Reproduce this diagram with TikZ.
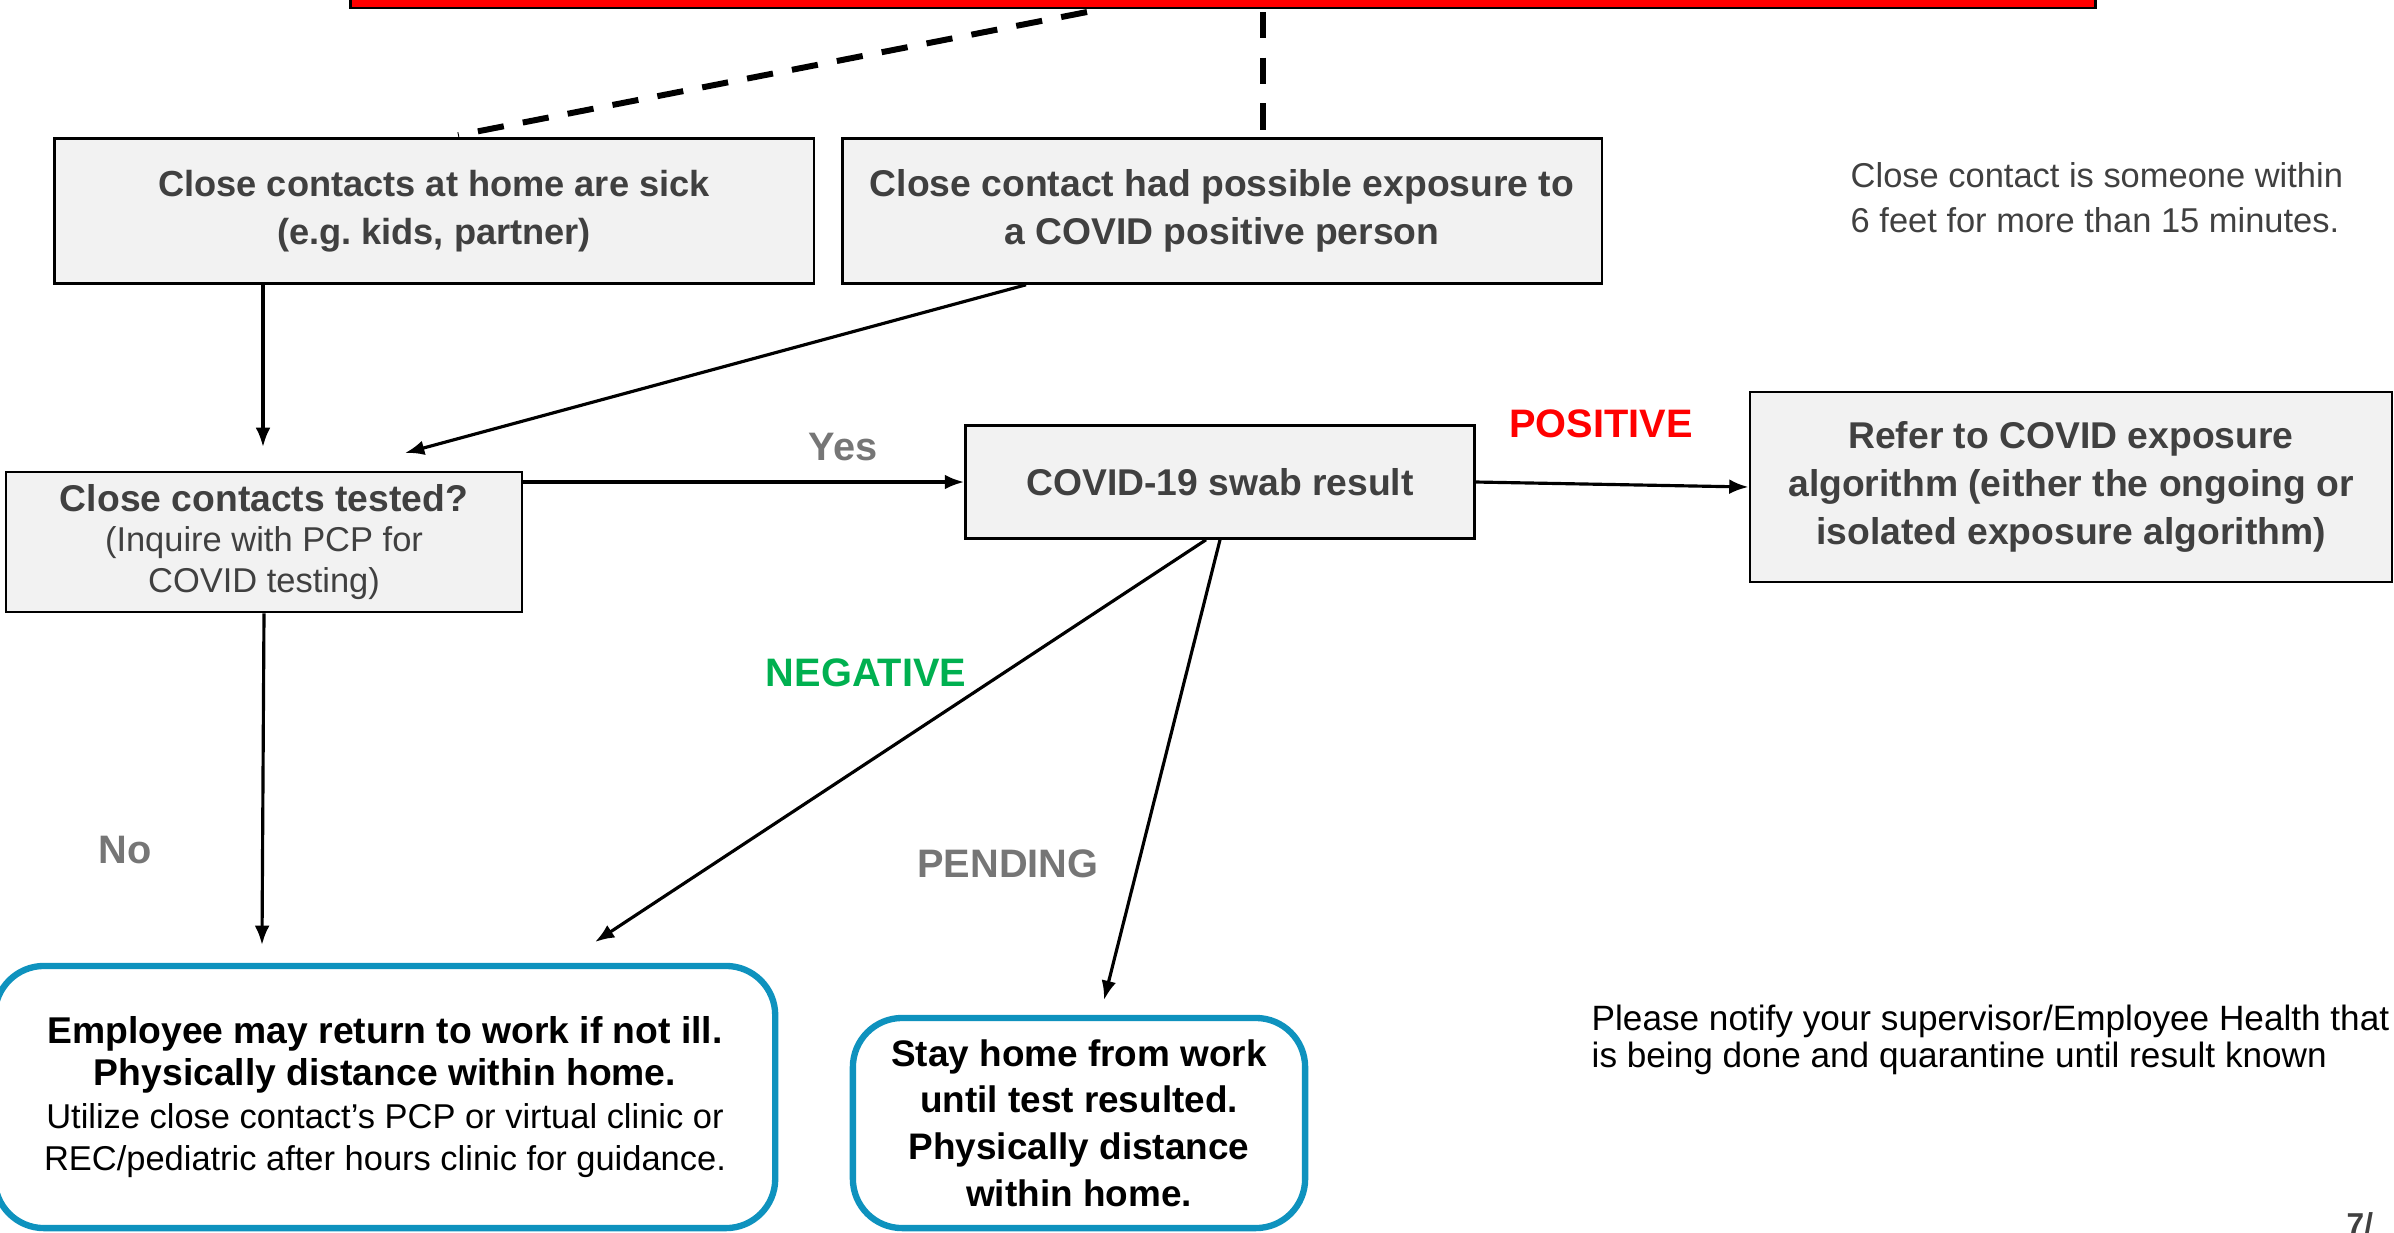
\documentclass[tikz,border=0pt]{standalone}
\usepackage{fontspec}
\setmainfont{Liberation Sans}
\usepackage{tikz}
\usetikzlibrary{arrows.meta,calc,positioning}
\definecolor{boxgray}{RGB}{242,242,242}
\definecolor{textgray}{RGB}{64,64,64}
\definecolor{labelgray}{RGB}{118,118,118}
\definecolor{tealline}{RGB}{14,146,190}
\definecolor{posred}{RGB}{255,0,0}
\definecolor{neggreen}{RGB}{0,176,80}
\newcommand{\notefont}{\fontsize{9.8}{11.3}\selectfont\mdseries}
\newcommand{\boxfont}{\fontsize{10.6}{13.6}\selectfont}
\frenchspacing

\begin{document}
\begin{tikzpicture}[x=0.01cm,y=-0.01cm,
    topbox/.style={draw=black,fill=red,line width=0.8pt,minimum width=17.44cm,minimum height=0.48cm,inner sep=0pt},
    greybox/.style={draw=black,line width=0.7pt,fill=boxgray,text=textgray,align=center,inner sep=0pt,font=\boxfont\bfseries},
    tealbox/.style={draw=tealline,line width=1.8pt,rounded corners=14pt,fill=white,align=center,inner sep=0pt},
    arr/.style={-{Latex[length=5.5pt,width=4.2pt]},line width=0.9pt},
    dashline/.style={line width=1.7pt,dash pattern=on 7.5pt off 5.5pt},
    lbl/.style={font=\fontsize{11.3}{13}\selectfont\bfseries}]
        \useasboundingbox (0,0) rectangle (2394,1232);
        %Boxes
        \node[topbox] (top) at (1223,-16) {};
        \node[greybox,minimum width=7.59cm,minimum height=1.45cm,font=\fontsize{10.3}{13.6}\selectfont\bfseries] (homesick) at (434,211) {Close contacts at home are sick\\(e.g. kids, partner)};
        \node[greybox,minimum width=7.59cm,minimum height=1.45cm] (exposure) at (1222,211) {Close contact had possible exposure to\\a COVID positive person};
        \node[greybox,minimum width=5.16cm,minimum height=1.40cm,font=\fontsize{10.6}{11.4}\selectfont\bfseries] (tested) at (264,542) {Close contacts tested?\\{\notefont (Inquire with PCP for}\\{\notefont COVID testing)}};
        \node[greybox,minimum width=5.09cm,minimum height=1.13cm] (swab) at (1220,482) {COVID-19 swab result};
        \node[greybox,minimum width=6.42cm,minimum height=1.90cm] (refer) at (2071,487) {Refer to COVID exposure\\algorithm (either the ongoing or\\isolated exposure algorithm)};
        \node[tealbox,minimum width=7.80cm,minimum height=2.62cm] (returnwork) at (385,1097) {{\fontsize{10.6}{12.5}\selectfont\bfseries Employee may return to work if not ill.}\\{\fontsize{10.6}{12.5}\selectfont\bfseries Physically distance within home.}\\{\notefont Utilize close contact’s PCP or virtual clinic or}\\{\notefont REC/pediatric after hours clinic for guidance.}};
        \node[tealbox,minimum width=4.52cm,minimum height=2.10cm,font=\fontsize{10.5}{13.3}\selectfont\bfseries] (stayhome) at (1079,1123) {Stay home from work\\until test resulted.\\Physically distance\\within home.};
        %Notes
        \node[anchor=west,align=left,inner sep=0pt,text=textgray,font=\fontsize{9.8}{12.8}\selectfont] (contactnote) at (1850,198) {Close contact is someone within\\6 feet for more than 15 minutes.};
        \node[anchor=west,align=left,inner sep=0pt,font=\fontsize{10}{10.6}\selectfont] (notifynote) at (1591,1040) {Please notify your supervisor/Employee Health that t\\is being done and quarantine until result known};
        \node[anchor=north west,inner sep=0pt,text=textgray,font=\fontsize{9}{10}\selectfont\bfseries] (datenote) at (2346,1212) {7/};
        %Dashed links from the top box
        \coordinate (dashA) at (1087,12);
        \coordinate (dashB) at (1263,12);
        \draw[dashline] (dashA) -- ($(homesick.north)+(24,-2)$);
        \draw[dashline] (dashB) -- ($(exposure.north -| dashB)+(0,-2)$);
        %Arrow ends
        \coordinate (tipA) at (263,447);
        \coordinate (tipB) at (405,453);
        \coordinate (tipNo) at (262,945);
        \coordinate (tipNeg) at (595,942);
        \coordinate (tipPend) at (1104,1000);
        %Arrows
        \draw[arr] (homesick.south -| tipA) -- (tipA);
        \draw[arr] ($(exposure.south)+(-196,0)$) -- (tipB);
        \draw[arr] (tested.east |- swab.west) -- (swab.west);
        \draw[arr] (swab.east) -- (refer.west);
        \draw[arr] (tested.south) -- (tipNo);
        \draw[arr] ($(swab.south)+(-14,0)$) -- (tipNeg);
        \draw[arr] (swab.south) -- (tipPend);
        %Labels
        \node[lbl,text=labelgray] (yes) at (843,447) {Yes};
        \node[lbl,text=posred] (positive) at (1601,424) {POSITIVE};
        \node[lbl,text=neggreen] (negative) at (866,673) {NEGATIVE};
        \node[lbl,text=labelgray] (no) at (125,850) {No};
        \node[lbl,text=labelgray] (pending) at (1008,864) {PENDING};
\end{tikzpicture}
\end{document}
